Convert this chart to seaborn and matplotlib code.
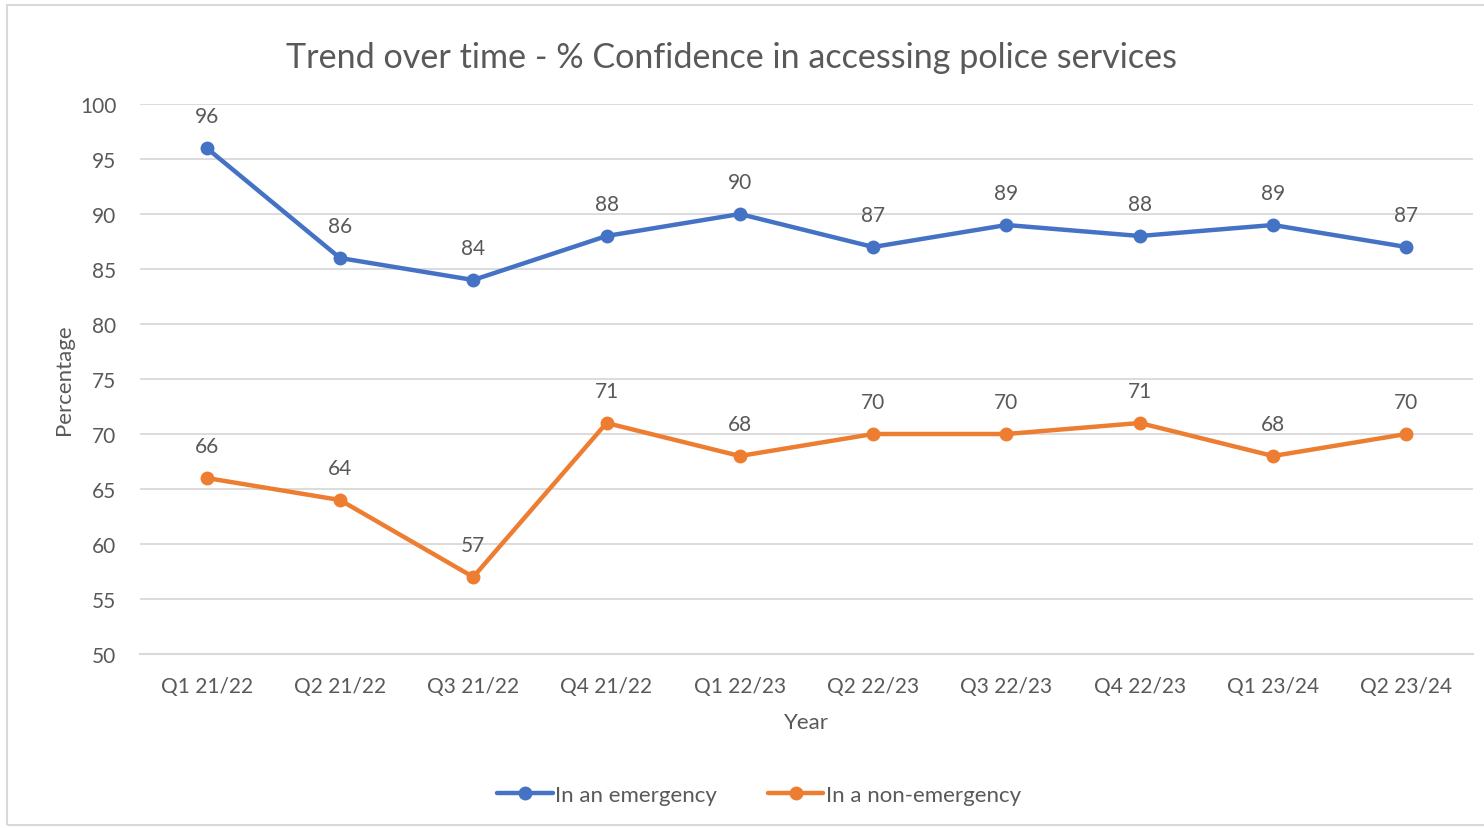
import pandas as pd
import matplotlib.pyplot as plt
import seaborn as sns
from matplotlib.patches import Rectangle

quarters = ['Q1 21/22', 'Q2 21/22', 'Q3 21/22', 'Q4 21/22', 'Q1 22/23',
            'Q2 22/23', 'Q3 22/23', 'Q4 22/23', 'Q1 23/24', 'Q2 23/24']
emergency = [96, 86, 84, 88, 90, 87, 89, 88, 89, 87]
non_emergency = [66, 64, 57, 71, 68, 70, 70, 71, 68, 70]
series_names = ['In an emergency', 'In a non-emergency']
colors = ['#4472C4', '#ED7D31']

df = pd.DataFrame({
    'Year': list(range(len(quarters))) * 2,
    'Percentage': emergency + non_emergency,
    'Series': [series_names[0]] * len(quarters) + [series_names[1]] * len(quarters),
})

sns.set_theme(style='white')
plt.rcParams['font.family'] = ['Lato', 'DejaVu Sans']
text_col = '#595959'
grid_col = '#D9D9D9'

fig = plt.figure(figsize=(14.84, 8.29), dpi=100)
ax = fig.add_axes([140 / 1484, 1 - 655 / 829, 1333 / 1484, 550 / 829])

sns.lineplot(data=df, x='Year', y='Percentage', hue='Series', palette=colors,
             marker='o', markersize=10, markeredgewidth=0, linewidth=3.2, ax=ax)

# data labels above each point
for vals in [emergency, non_emergency]:
    for i, v in enumerate(vals):
        ax.annotate(str(v), (i, v), xytext=(0, 23), textcoords='offset points',
                    ha='center', va='center', fontsize=15, color=text_col)

ax.set_xlim(-0.5, len(quarters) - 0.5)
ax.set_ylim(50, 100)
ax.set_yticks(range(50, 101, 5))
ax.set_xticks(range(len(quarters)))
ax.set_xticklabels(quarters)
ax.set_xticks([i - 0.5 for i in range(len(quarters) + 1)], minor=True)
ax.tick_params(axis='x', which='major', length=0, pad=15.5, labelsize=15, labelcolor=text_col)
ax.tick_params(axis='x', which='minor', length=6, width=1.5, color=grid_col, direction='out')
ax.tick_params(axis='y', length=0, pad=17, labelsize=15, labelcolor=text_col)
ax.grid(axis='y', color=grid_col, linewidth=1.3)
for s in ['top', 'right', 'left']:
    ax.spines[s].set_visible(False)
ax.spines['bottom'].set_color(grid_col)
ax.spines['bottom'].set_linewidth(1.5)

ax.set_xlabel('Year', fontsize=16, color=text_col, labelpad=12)
ax.set_ylabel('Percentage', fontsize=16, color=text_col, labelpad=4)

fig.text(731 / 1484, 1 - 58 / 829, 'Trend over time - % Confidence in accessing police services',
         ha='center', va='center', fontsize=24.6, color=text_col)

handles, labels = ax.get_legend_handles_labels()
ax.legend(handles, labels, loc='center', bbox_to_anchor=(759 / 1484, 1 - 796 / 829),
          bbox_transform=fig.transFigure, ncol=2, frameon=False, fontsize=16,
          labelcolor=text_col, handlelength=2.5, handletextpad=0.1, columnspacing=2.3)

fig.patches.append(Rectangle((7 / 1484, 3 / 829), 1.0, 820 / 829, transform=fig.transFigure,
                             fill=False, edgecolor=grid_col, linewidth=1.5))

fig.savefig('out.png', dpi=100)
